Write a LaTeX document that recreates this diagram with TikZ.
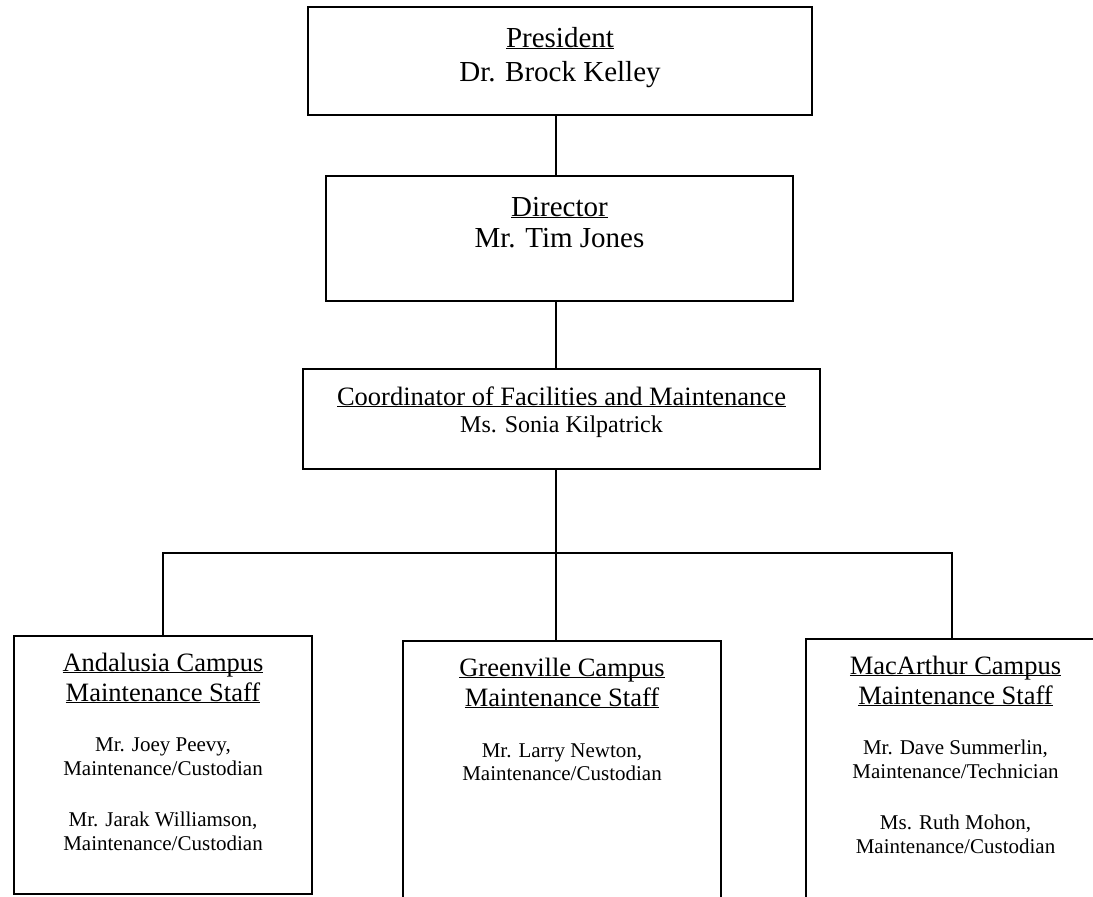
\documentclass[tikz,border=0pt]{standalone}
\usepackage{fontspec}
\setmainfont{Liberation Serif}
\usepackage{tikz}
\usetikzlibrary{positioning}
\newcommand{\hd}[1]{\underline{\smash{#1}}}
\tikzset{
  box/.style={draw, line width=1.6pt, inner sep=0pt},
  link/.style={line width=1.4pt},
  txt/.style={align=center, anchor=base, inner sep=0pt},
  head/.style={txt, font=\fontsize{29}{33}\selectfont},
  title/.style={txt, font=\fontsize{26.5}{30}\selectfont},
  staff/.style={txt, font=\fontsize{21}{23.5}\selectfont},
}

\begin{document}
\begin{tikzpicture}[x=1pt,y=-1pt]
\useasboundingbox (0,0) rectangle (1093,897);
\clip (0,0) rectangle (1093,897);
\node[box, minimum width=504pt, minimum height=108pt] (pres) at (560,61) {};
\node[box, minimum width=467pt, minimum height=125pt] (dir) at (559.5,238.5) {};
\node[box, minimum width=517pt, minimum height=100pt] (coord) at (561.5,419) {};
\node[box, minimum width=298pt, minimum height=258pt] (andal) at (163,765) {};
\node[box, minimum width=318pt, minimum height=330pt] (green) at (562,806) {};
\node[box, minimum width=299pt, minimum height=330pt] (mac) at (955.5,804) {};

\node[head, font=\fontsize{29}{34}\selectfont] (pres text) at ([yshift=-75pt]pres.north) {\hd{President}\\Dr. Brock Kelley};
\node[head, font=\fontsize{29}{31}\selectfont] (dir text) at ([yshift=-72pt]dir.north) {\hd{Director}\\Mr. Tim Jones};
\node[title] (coord title) at ([yshift=-37pt]coord.north) {\hd{Coordinator of Facilities and Maintenance}};
\node[txt, font=\fontsize{24}{27}\selectfont] (coord name) at ([yshift=-64pt]coord.north) {Ms. Sonia Kilpatrick};

\node[title] (andal title) at ([yshift=-66pt]andal.north) {\hd{Andalusia Campus}\\\hd{Maintenance Staff}};
\node[staff] (andal staff) at ([yshift=-215pt]andal.north) {Mr. Joey Peevy,\\Maintenance/Custodian\\[28pt]Mr. Jarak Williamson,\\Maintenance/Custodian};
\node[title] (green title) at ([yshift=-66pt]green.north) {\hd{Greenville Campus}\\\hd{Maintenance Staff}};
\node[staff] (green staff) at ([yshift=-140.5pt]green.north) {Mr. Larry Newton,\\Maintenance/Custodian};
\node[title] (mac title) at ([yshift=-66pt]mac.north) {\hd{MacArthur Campus}\\\hd{Maintenance Staff}};
\node[staff] (mac staff) at ([yshift=-215pt]mac.north) {Mr. Dave Summerlin,\\Maintenance/Technician\\[28pt]Ms. Ruth Mohon,\\Maintenance/Custodian};

\coordinate (bar) at (556,553);
\coordinate (bar end) at (952,553);
\draw[link, line width=1.2pt] (pres.south -| bar) -- (dir.north -| bar);
\draw[link] (dir.south -| bar) -- (coord.north -| bar);
\draw[link] (coord.south -| bar) -- (green.north -| bar);
\draw[link] (andal.north) |- (bar end) -- (bar end |- mac.north);
\end{tikzpicture}
\end{document}
